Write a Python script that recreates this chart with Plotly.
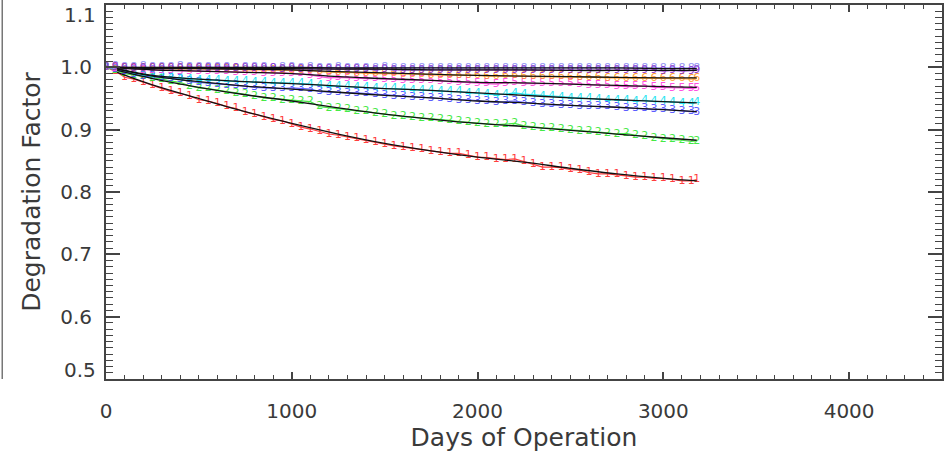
import plotly.graph_objects as go

days = [0, 50, 100, 150, 200, 250, 300, 350, 400, 450, 500, 550, 600, 650, 700, 750,
        800, 850, 900, 950, 1000, 1050, 1100, 1150, 1200, 1250, 1300, 1350, 1400, 1450,
        1500, 1550, 1600, 1650, 1700, 1750, 1800, 1850, 1900, 1950, 2000, 2050, 2100,
        2150, 2200, 2250, 2300, 2350, 2400, 2450, 2500, 2550, 2600, 2650, 2700, 2750,
        2800, 2850, 2900, 2950, 3000, 3050, 3100, 3150, 3180]

red = [1.000, 0.994, 0.984, 0.981, 0.976, 0.971, 0.967, 0.961, 0.958, 0.954, 0.948, 0.946,
       0.942, 0.937, 0.934, 0.928, 0.925, 0.920, 0.916, 0.914, 0.909, 0.904, 0.901, 0.897,
       0.893, 0.891, 0.888, 0.886, 0.883, 0.880, 0.877, 0.874, 0.872, 0.870, 0.868, 0.866,
       0.864, 0.862, 0.862, 0.859, 0.856, 0.855, 0.853, 0.852, 0.853, 0.849, 0.845, 0.840,
       0.840, 0.839, 0.836, 0.835, 0.831, 0.829, 0.829, 0.828, 0.826, 0.824, 0.824, 0.822,
       0.822, 0.820, 0.818, 0.818, 0.820]
green = [1.000, 0.996, 0.990, 0.988, 0.985, 0.983, 0.981, 0.978, 0.976, 0.970, 0.967, 0.966,
         0.963, 0.961, 0.959, 0.957, 0.954, 0.951, 0.950, 0.948, 0.947, 0.946, 0.945, 0.937,
         0.935, 0.934, 0.932, 0.930, 0.929, 0.927, 0.925, 0.922, 0.921, 0.920, 0.919, 0.918,
         0.916, 0.915, 0.913, 0.912, 0.911, 0.909, 0.908, 0.909, 0.910, 0.906, 0.904, 0.903,
         0.902, 0.901, 0.899, 0.898, 0.897, 0.896, 0.895, 0.893, 0.894, 0.891, 0.889, 0.887,
         0.885, 0.884, 0.883, 0.881, 0.882]
blue = [1.000, 0.997, 0.993, 0.989, 0.986, 0.985, 0.984, 0.983, 0.981, 0.977, 0.976, 0.975,
        0.973, 0.972, 0.971, 0.970, 0.968, 0.967, 0.967, 0.966, 0.967, 0.966, 0.965, 0.961,
        0.960, 0.960, 0.959, 0.959, 0.958, 0.957, 0.955, 0.954, 0.953, 0.952, 0.952, 0.951,
        0.950, 0.949, 0.948, 0.948, 0.946, 0.945, 0.944, 0.945, 0.946, 0.944, 0.943, 0.940,
        0.940, 0.939, 0.939, 0.938, 0.938, 0.937, 0.937, 0.936, 0.935, 0.934, 0.934, 0.932,
        0.933, 0.931, 0.930, 0.929, 0.928]
cyan = [1.000, 0.998, 0.995, 0.991, 0.988, 0.986, 0.985, 0.984, 0.983, 0.981, 0.980, 0.979,
        0.979, 0.978, 0.977, 0.977, 0.976, 0.976, 0.975, 0.975, 0.975, 0.974, 0.973, 0.971,
        0.970, 0.970, 0.969, 0.968, 0.968, 0.967, 0.966, 0.966, 0.965, 0.964, 0.963, 0.963,
        0.962, 0.961, 0.961, 0.959, 0.958, 0.957, 0.956, 0.957, 0.959, 0.957, 0.956, 0.954,
        0.953, 0.952, 0.951, 0.951, 0.950, 0.949, 0.948, 0.948, 0.947, 0.946, 0.947, 0.945,
        0.945, 0.944, 0.943, 0.943, 0.944]
magenta = [1.000, 0.999, 0.998, 0.997, 0.996, 0.996, 0.995, 0.995, 0.994, 0.994, 0.994, 0.993,
           0.993, 0.993, 0.992, 0.992, 0.992, 0.991, 0.991, 0.991, 0.990, 0.990, 0.988, 0.985,
           0.983, 0.984, 0.983, 0.983, 0.982, 0.982, 0.981, 0.981, 0.980, 0.980, 0.980, 0.979,
           0.978, 0.977, 0.976, 0.976, 0.975, 0.974, 0.973, 0.975, 0.976, 0.974, 0.974, 0.974,
           0.975, 0.974, 0.974, 0.973, 0.972, 0.971, 0.971, 0.970, 0.969, 0.969, 0.970, 0.968,
           0.968, 0.967, 0.967, 0.966, 0.967]
orange = [1.000, 1.000, 0.999, 0.999, 0.999, 0.998, 0.998, 0.998, 0.998, 0.997, 0.998, 0.997,
          0.997, 0.997, 0.997, 0.996, 0.996, 0.996, 0.996, 0.995, 0.996, 0.995, 0.995, 0.993,
          0.992, 0.992, 0.992, 0.991, 0.991, 0.990, 0.990, 0.990, 0.989, 0.989, 0.989, 0.988,
          0.988, 0.988, 0.987, 0.987, 0.987, 0.986, 0.986, 0.987, 0.987, 0.986, 0.985, 0.985,
          0.985, 0.985, 0.984, 0.984, 0.984, 0.984, 0.983, 0.983, 0.983, 0.983, 0.983, 0.982,
          0.982, 0.982, 0.982, 0.981, 0.982]
lavender = [1.000, 1.001, 1.000, 1.000, 1.001, 1.000, 1.000, 1.000, 1.001, 1.000, 1.000, 1.000,
            1.000, 1.000, 0.999, 1.000, 1.000, 1.000, 0.999, 1.000, 1.000, 0.999, 1.000, 0.999,
            0.999, 1.000, 0.999, 0.999, 0.999, 0.999, 1.000, 0.999, 0.999, 0.999, 0.999, 0.999,
            0.999, 0.998, 0.999, 0.999, 0.999, 0.999, 0.998, 0.999, 0.999, 0.999, 0.998, 0.999,
            0.999, 0.998, 0.999, 0.999, 0.998, 0.999, 0.999, 0.998, 0.999, 0.999, 0.998, 0.999,
            0.998, 0.999, 0.998, 0.998, 0.999]
purple = [1.000, 1.000, 0.999, 0.999, 0.999, 0.999, 0.999, 0.999, 0.999, 0.998, 0.999, 0.998,
          0.998, 0.998, 0.998, 0.998, 0.998, 0.998, 0.998, 0.997, 0.998, 0.997, 0.997, 0.997,
          0.997, 0.997, 0.997, 0.997, 0.997, 0.996, 0.997, 0.996, 0.996, 0.996, 0.996, 0.996,
          0.996, 0.996, 0.996, 0.996, 0.996, 0.996, 0.995, 0.996, 0.996, 0.996, 0.995, 0.996,
          0.995, 0.995, 0.995, 0.995, 0.995, 0.995, 0.995, 0.995, 0.995, 0.995, 0.995, 0.995,
          0.994, 0.995, 0.994, 0.994, 0.995]

series_names = ["1", "2", "3", "4", "5", "6", "8", "9"]
series_values = [red, green, blue, cyan, magenta, orange, lavender, purple]
series_colors = ["#ff2a2a", "#33e833", "#4b4bff", "#12e3f0", "#ff3fe0", "#ff9a1f",
                 "#8a8af5", "#8d2fc8"]

fit_days = [60, 250, 500, 750, 1000, 1250, 1500, 1750, 2000, 2250, 2500, 2750, 3000, 3180]
fit_red = [0.992, 0.972, 0.950, 0.929, 0.910, 0.893, 0.878, 0.866, 0.856, 0.848, 0.838,
           0.829, 0.822, 0.818]
fit_green = [0.995, 0.982, 0.968, 0.956, 0.946, 0.935, 0.925, 0.917, 0.910, 0.905, 0.899,
             0.893, 0.887, 0.883]
fit_blue = [0.997, 0.986, 0.977, 0.970, 0.965, 0.960, 0.955, 0.951, 0.946, 0.943, 0.939,
            0.936, 0.932, 0.929]
fit_cyan = [0.998, 0.987, 0.981, 0.977, 0.974, 0.970, 0.966, 0.963, 0.959, 0.955, 0.951,
            0.948, 0.945, 0.943]
fit_magenta = [0.999, 0.996, 0.994, 0.992, 0.990, 0.985, 0.982, 0.979, 0.976, 0.975, 0.973,
               0.971, 0.969, 0.968]
fit_orange = [1.000, 0.998, 0.998, 0.997, 0.996, 0.993, 0.991, 0.989, 0.987, 0.986, 0.985,
              0.984, 0.983, 0.983]
fit_lavender = [1.000, 1.000, 1.000, 1.000, 1.000, 0.999, 0.999, 0.999, 0.999, 0.999, 0.999,
                0.999, 0.998, 0.998]
fit_purple = [1.000, 0.999, 0.999, 0.998, 0.998, 0.997, 0.997, 0.996, 0.996, 0.996, 0.995,
              0.995, 0.995, 0.995]
fit_values = [fit_red, fit_green, fit_blue, fit_cyan, fit_magenta, fit_orange,
              fit_lavender, fit_purple]

x_ticks = [0, 1000, 2000, 3000, 4000]
y_ticks = [0.5, 0.6, 0.7, 0.8, 0.9, 1.0, 1.1]
y_ticktext = ["", "0.6", "0.7", "0.8", "0.9", "1.0", ""]

FONT = "DejaVu Sans"
TXT = "#3a3a3a"
AX = "#444444"
TICK_SIZE = 20
TITLE_SIZE = 25

fig = go.Figure()
for name, vals, col in zip(series_names, series_values, series_colors):
    fig.add_trace(go.Scatter(
        x=days, y=vals, mode="lines+text", text=[name] * len(vals),
        textposition="middle center",
        textfont=dict(family=FONT, size=11, color=col),
        line=dict(color=col, width=1.2), opacity=0.9, showlegend=False,
    ))
for vals in fit_values:
    fig.add_trace(go.Scatter(
        x=fit_days, y=vals, mode="lines", line=dict(color="#111111", width=1.3),
        line_shape="spline", showlegend=False,
    ))

fig.update_layout(
    width=945, height=455,
    margin=dict(l=106, r=1, t=5, b=76),
    paper_bgcolor="white", plot_bgcolor="white",
    font=dict(family=FONT, size=TICK_SIZE, color=TXT),
    xaxis=dict(
        range=[0, 4500], tickvals=x_ticks, ticks="inside", ticklen=7, tickwidth=1.5,
        tickcolor=AX, showline=True, linecolor=AX, linewidth=2, mirror="allticks",
        showgrid=False, zeroline=False, tickfont=dict(size=TICK_SIZE, color=TXT),
        ticklabelstandoff=13,
        minor=dict(dtick=100, ticks="inside", ticklen=4, tickwidth=1, tickcolor=AX),
        title=dict(text="Days of Operation", font=dict(size=TITLE_SIZE, color=TXT),
                   standoff=2),
    ),
    yaxis=dict(
        range=[0.5, 1.1], tickvals=y_ticks, ticktext=y_ticktext, ticks="inside",
        ticklen=14, tickwidth=1.5, tickcolor=AX, showline=True, linecolor=AX,
        linewidth=2, mirror="allticks", showgrid=False, zeroline=False,
        tickfont=dict(size=TICK_SIZE, color=TXT), ticklabelstandoff=8,
        minor=dict(dtick=0.01, ticks="inside", ticklen=7, tickwidth=1, tickcolor=AX),
        title=dict(text="Degradation Factor", font=dict(size=TITLE_SIZE, color=TXT),
                   standoff=12),
    ),
    shapes=[dict(type="line", xref="paper", yref="paper", x0=-0.1241, x1=-0.1241,
                 y0=0, y1=1.02, line=dict(color="#777777", width=1.5))],
    annotations=[
        dict(text="1.1", xref="paper", yref="y", x=0, y=1.1, xanchor="right",
             yanchor="middle", xshift=-8, yshift=-10, showarrow=False,
             font=dict(size=TICK_SIZE, color=TXT)),
        dict(text="0.5", xref="paper", yref="y", x=0, y=0.5, xanchor="right",
             yanchor="middle", xshift=-8, yshift=9, showarrow=False,
             font=dict(size=TICK_SIZE, color=TXT)),
    ],
)

fig.write_html("out.html")
